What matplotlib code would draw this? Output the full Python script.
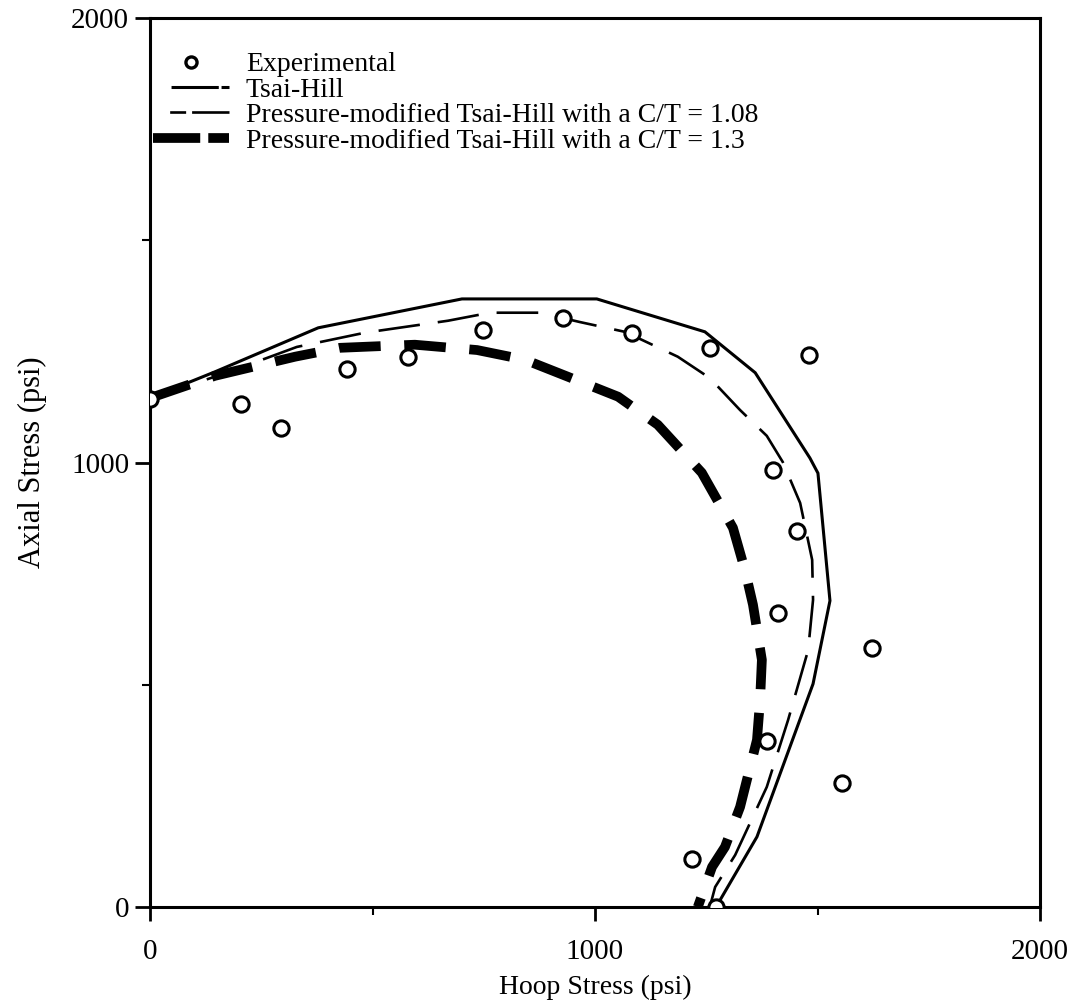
import matplotlib
matplotlib.use("Agg")
import matplotlib.pyplot as plt
from matplotlib.lines import Line2D

plt.rcParams['font.family'] = ['Liberation Serif', 'DejaVu Serif']
plt.rcParams['lines.scale_dashes'] = False

# Experimental data (hoop, axial) psi
exp_hoop = [0, 204, 294, 443, 580, 748, 928, 1083, 1258, 1481, 1400, 1454, 1411, 1622, 1387, 1555, 1218, 1272]
exp_axial = [1143, 1132, 1078, 1211, 1238, 1298, 1325, 1292, 1258, 1242, 983, 846, 662, 583, 374, 279, 108, 0]

# Tsai-Hill
th_hoop = [0, 146, 378, 701, 1004, 1247, 1360, 1483, 1501, 1528, 1490, 1364, 1272]
th_axial = [1145, 1204, 1303, 1368, 1368, 1294, 1202, 1010, 976, 689, 502, 158, 0]

# Pressure-modified Tsai-Hill, C/T = 1.08
p108_hoop = [0, 173, 330, 483, 670, 764, 876, 966, 1067, 1186, 1258, 1326, 1386, 1422, 1461, 1488, 1490, 1479, 1434, 1386, 1315, 1270, 1258]
p108_axial = [1145, 1202, 1260, 1292, 1319, 1337, 1337, 1316, 1294, 1238, 1190, 1118, 1060, 1001, 909, 781, 691, 578, 421, 270, 117, 45, 0]

# Pressure-modified Tsai-Hill, C/T = 1.3
p13_hoop = [0, 146, 326, 427, 595, 735, 843, 939, 1052, 1141, 1240, 1310, 1337, 1355, 1375, 1371, 1364, 1326, 1292, 1263, 1231]
p13_axial = [1145, 1195, 1238, 1258, 1265, 1253, 1231, 1193, 1148, 1085, 977, 853, 758, 680, 556, 466, 376, 225, 135, 90, 0]

labels = ["Experimental", "Tsai-Hill",
          "Pressure-modified Tsai-Hill with a C/T = 1.08",
          "Pressure-modified Tsai-Hill with a C/T = 1.3"]

fig = plt.figure(figsize=(10.85, 10.05), dpi=100)
ax = fig.add_axes([150/1085, 1-907/1005, 890/1085, 889/1005])

ax.plot(th_hoop, th_axial, color='black', lw=2.2, solid_joinstyle='miter')
ax.plot(p108_hoop, p108_axial, color='black', lw=1.9, dashes=(30, 13))
ax.plot(p13_hoop, p13_axial, color='black', lw=7, dashes=(30, 17), solid_capstyle='butt', dash_capstyle='butt')
ax.plot(exp_hoop, exp_axial, linestyle='none', marker='o', ms=11, mfc='white', mec='black', mew=2.2, zorder=5)

ax.set_xlim(0, 2000)
ax.set_ylim(0, 2000)
ax.set_xticks([0, 1000, 2000])
ax.set_yticks([0, 1000, 2000])
ax.set_xticks([500, 1500], minor=True)
ax.set_yticks([500, 1500], minor=True)
ax.tick_params(which='major', direction='out', length=10, width=2, labelsize=21)
ax.tick_params(which='minor', direction='out', length=6, width=1.5)
ax.tick_params(axis='x', which='major', pad=13)
ax.tick_params(axis='y', which='major', length=11, pad=4)
for s in ax.spines.values():
    s.set_linewidth(2.2)

ax.set_xlabel("Hoop Stress (psi)", fontsize=20, labelpad=7)
ax.set_ylabel("Axial Stress (psi)", fontsize=22, labelpad=17)

handles = [
    Line2D([], [], linestyle='none', marker='o', ms=8, mfc='white', mec='black', mew=2.4),
    Line2D([], [], color='black', lw=2.2, linestyle=(42.5, (34, 2, 6.5, 13))),
    Line2D([], [], color='black', lw=1.9, linestyle=(42.8, (11.5, 4.3, 27, 12))),
    Line2D([], [], color='black', lw=7, linestyle=(0, (34, 5.8, 16, 100)), dash_capstyle='butt'),
]
ax.legend(handles, labels, loc='upper left', bbox_to_anchor=(0.003, 0.962),
          frameon=False, fontsize=20, handlelength=2.75, handletextpad=0.6,
          labelspacing=0.0, borderpad=0, borderaxespad=0)

fig.savefig("out.png", dpi=100)
